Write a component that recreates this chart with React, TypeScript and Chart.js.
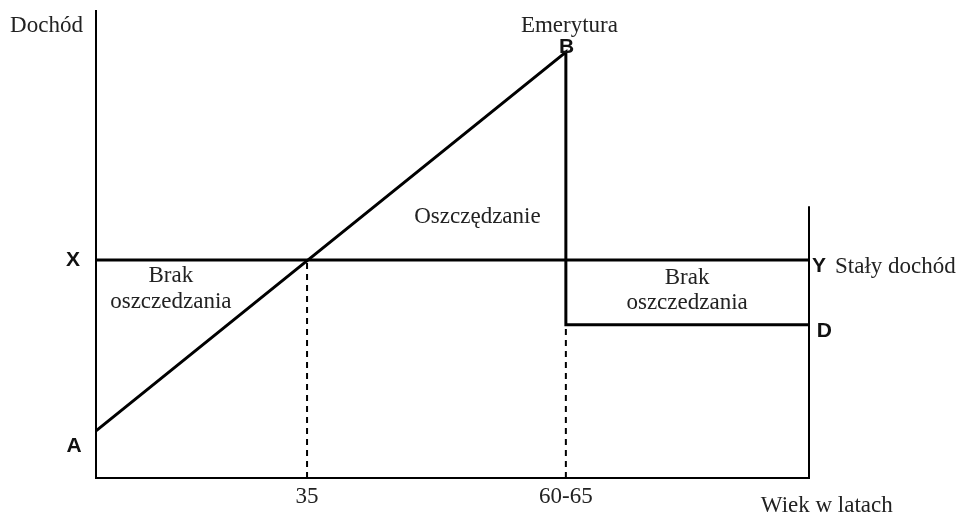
import { useEffect, useRef } from "react";
import { Chart, registerables } from "chart.js";

Chart.register(...registerables);

// Abstract units: x = life span (0..100), y = income (0..100)
const ageTickValues = [29.6, 65.9];
const ageTickLabels = ["35", "60-65"];

const earnedX = [0, 65.9, 65.9, 100];
const earnedY = [10.1, 91.2, 32.8, 32.8];

const constantX = [0, 100];
const constantY = [46.7, 46.7];

const rightEdgeX = [100, 100];
const rightEdgeY = [0, 58.2];

const dash35X = [29.6, 29.6];
const dash35Y = [0, 46.7];

const dashRetX = [65.9, 65.9];
const dashRetY = [0, 32.8];

const SERIF = "'Liberation Serif', 'Times New Roman', serif";
const SANS = "'Liberation Sans', Arial, sans-serif";

type Ann = { text: string; x: number; y: number; align: CanvasTextAlign; bold?: boolean };

const annotations: Ann[] = [
  { text: "Dochód", x: -6.94, y: 95.5, align: "center" },
  { text: "Emerytura", x: 66.4, y: 95.5, align: "center" },
  { text: "B", x: 66.0, y: 91.0, align: "center", bold: true },
  { text: "X", x: -3.23, y: 45.4, align: "center", bold: true },
  { text: "A", x: -3.09, y: 5.57, align: "center", bold: true },
  { text: "Y", x: 100.42, y: 44.1, align: "left", bold: true },
  { text: "D", x: 101.1, y: 30.2, align: "left", bold: true },
  { text: "Stały dochód", x: 103.65, y: 43.9, align: "left" },
  { text: "Oszczędzanie", x: 53.5, y: 54.6, align: "center" },
  { text: "Brak", x: 10.5, y: 42.0, align: "center" },
  { text: "oszczedzania", x: 10.5, y: 36.4, align: "center" },
  { text: "Brak", x: 82.9, y: 41.5, align: "center" },
  { text: "oszczedzania", x: 82.9, y: 36.2, align: "center" },
  { text: "Wiek w latach", x: 102.5, y: -7.28, align: "center" },
];

const pts = (xs: number[], ys: number[]) => xs.map((x, i) => ({ x, y: ys[i] }));

const textPlugin = {
  id: "texts",
  afterDatasetsDraw(chart: any) {
    const { ctx, scales } = chart;
    ctx.save();
    ctx.textBaseline = "alphabetic";
    for (const a of annotations) {
      ctx.font = a.bold ? `bold 21px ${SANS}` : `23px ${SERIF}`;
      ctx.fillStyle = a.bold ? "#111" : "#222";
      ctx.textAlign = a.align;
      ctx.fillText(a.text, scales.x.getPixelForValue(a.x), scales.y.getPixelForValue(a.y));
    }
    ctx.restore();
  },
};

export default function App() {
  const ref = useRef<HTMLCanvasElement | null>(null);
  useEffect(() => {
    if (!ref.current) return;
    const line = (xs: number[], ys: number[], w: number, dash: number[] = []) => ({
      data: pts(xs, ys),
      showLine: true,
      borderColor: "#000",
      borderWidth: w,
      borderDash: dash,
      pointRadius: 0,
      fill: false,
      tension: 0,
      clip: false as any,
      borderJoinStyle: "miter" as const,
      borderCapStyle: "butt" as const,
    });
    const chart = new Chart(ref.current, {
      type: "scatter",
      data: {
        datasets: [
          line(earnedX, earnedY, 3),
          line(constantX, constantY, 3),
          line(rightEdgeX, rightEdgeY, 2),
          line(dash35X, dash35Y, 2, [6, 5]),
          line(dashRetX, dashRetY, 2, [6, 5]),
        ],
      },
      options: {
        animation: false,
        responsive: false,
        events: [],
        layout: { padding: { left: 96, top: 11, right: 150, bottom: 0 } },
        plugins: { legend: { display: false }, tooltip: { enabled: false } },
        scales: {
          x: {
            type: "linear",
            min: 0,
            max: 100,
            grid: { display: false, drawTicks: false },
            border: { display: true, color: "#000", width: 2 },
            afterBuildTicks: (axis: any) => {
              axis.ticks = ageTickValues.map((v) => ({ value: v }));
            },
            afterFit: (axis: any) => {
              axis.height = 36;
            },
            ticks: {
              padding: 7,
              color: "#222",
              font: { family: SERIF, size: 23, lineHeight: 1.0 },
              autoSkip: false,
              maxRotation: 0,
              callback: (v: any) => {
                const i = ageTickValues.indexOf(Number(v));
                return i >= 0 ? ageTickLabels[i] : "";
              },
            },
          },
          y: {
            type: "linear",
            min: 0,
            max: 100,
            grid: { display: false, drawTicks: false },
            border: { display: true, color: "#000", width: 2 },
            ticks: { display: false },
          },
        },
      },
      plugins: [textPlugin],
    });
    return () => chart.destroy();
  }, []);
  return (
    <div style={{ position: "absolute", left: 0, top: 0, width: 959, height: 514, background: "#fff" }}>
      <canvas ref={ref} width={959} height={514} style={{ display: "block" }} />
    </div>
  );
}
